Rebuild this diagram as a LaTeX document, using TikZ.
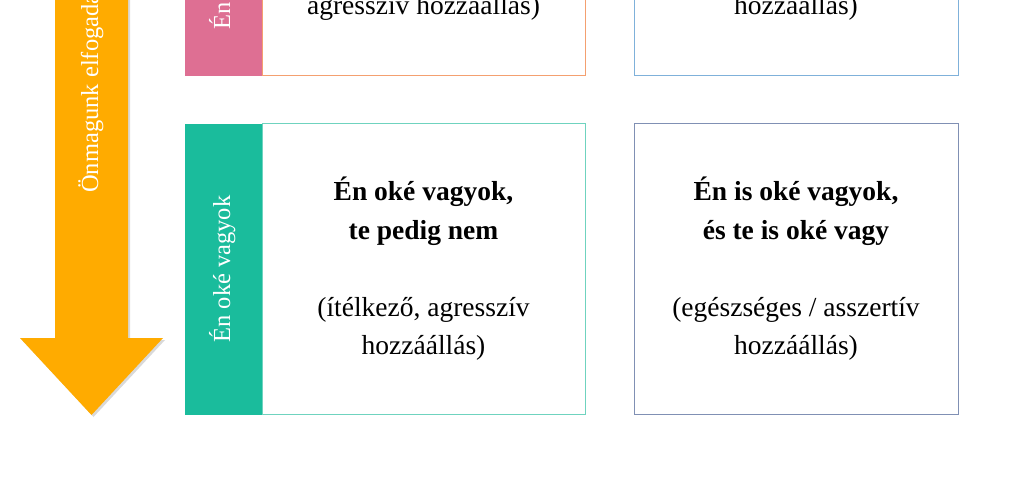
\documentclass[tikz,border=0pt]{standalone}
\usepackage{fontspec}
\setmainfont{Liberation Serif}
\usepackage{tikz}
\usetikzlibrary{positioning}

\definecolor{okgreen}{HTML}{1ABC9C}
\definecolor{nokpink}{HTML}{DE6F93}
\definecolor{axisorange}{HTML}{FFAB00}
\definecolor{aggrline}{HTML}{F4A070}
\definecolor{passline}{HTML}{7FB1DA}
\definecolor{okline}{HTML}{6FD3BF}
\definecolor{asszline}{HTML}{8090B4}

\begin{document}
\begin{tikzpicture}[x=1pt, y=-1pt,
		sidebar/.style={fill=#1, minimum width=77pt, minimum height=291pt, inner sep=0pt, outer sep=0pt},
		quadrant/.style={draw=#1, line width=1pt, fill=white, minimum width=323pt, minimum height=291pt, inner sep=0pt, outer sep=0pt, align=center, font=\fontsize{27.5}{38.5}\selectfont},
		quadnote/.style={anchor=base, inner sep=0pt, font=\fontsize{27.5}{38.5}\selectfont},
		sidelabel/.style={rotate=90, text=white, inner sep=0pt, text height=18pt, text depth=5pt, font=\fontsize{24.5}{29}\selectfont}]
			\useasboundingbox (0,0) rectangle (1024,484);
			\clip (0,0) rectangle (1024,484);
			\fill[gray!30] (57,-10) -- (130,-10) -- (130,340) -- (165,340) -- (93.5,417) -- (22,340) -- (57,340) -- cycle;
			\fill[axisorange] (55,-10) -- (128,-10) -- (128,338) -- (163,338) -- (91.5,415) -- (20,338) -- (55,338) -- cycle;
			\node[sidelabel, anchor=west] (acceptlabel) at (91.5,193) {Önmagunk elfogadá};
			% Én nem vagyok oké
			\node[sidebar=nokpink, anchor=south west] (nokbar) at (185,76) {};
			\node[quadrant=aggrline, right=0mm of nokbar.east, anchor=west] (nokleft) {};
			\node[quadrant=passline, right=49pt of nokleft.east, anchor=west, minimum width=324pt] (nokright) {};
			\node[sidelabel, anchor=west] (noklabel) at ([yshift=46pt]nokbar.south) {Én};
			\node[quadnote] (nokleftnote) at ([yshift=61pt]nokleft.south) {agresszív hozzáállás)};
			\node[quadnote] (nokrightnote) at ([yshift=61pt]nokright.south) {hozzáállás)};
			% Én oké vagyok
			\node[sidebar=okgreen, anchor=north west] (okbar) at (185,123.5) {};
			\node[sidelabel] (oklabel) at (okbar.center) {Én oké vagyok};
			\node[quadrant=okline, right=0mm of okbar.east, anchor=west] (okleft) {\textbf{Én oké vagyok,}\\\textbf{te pedig nem}\\[38.5pt](ítélkező, agresszív\\hozzáállás)};
			\node[quadrant=asszline, right=49pt of okleft.east, anchor=west, minimum width=324pt] (okright) {\textbf{Én is oké vagyok,}\\\textbf{és te is oké vagy}\\[38.5pt](egészséges / asszertív\\hozzáállás)};
		\end{tikzpicture}
\end{document}
